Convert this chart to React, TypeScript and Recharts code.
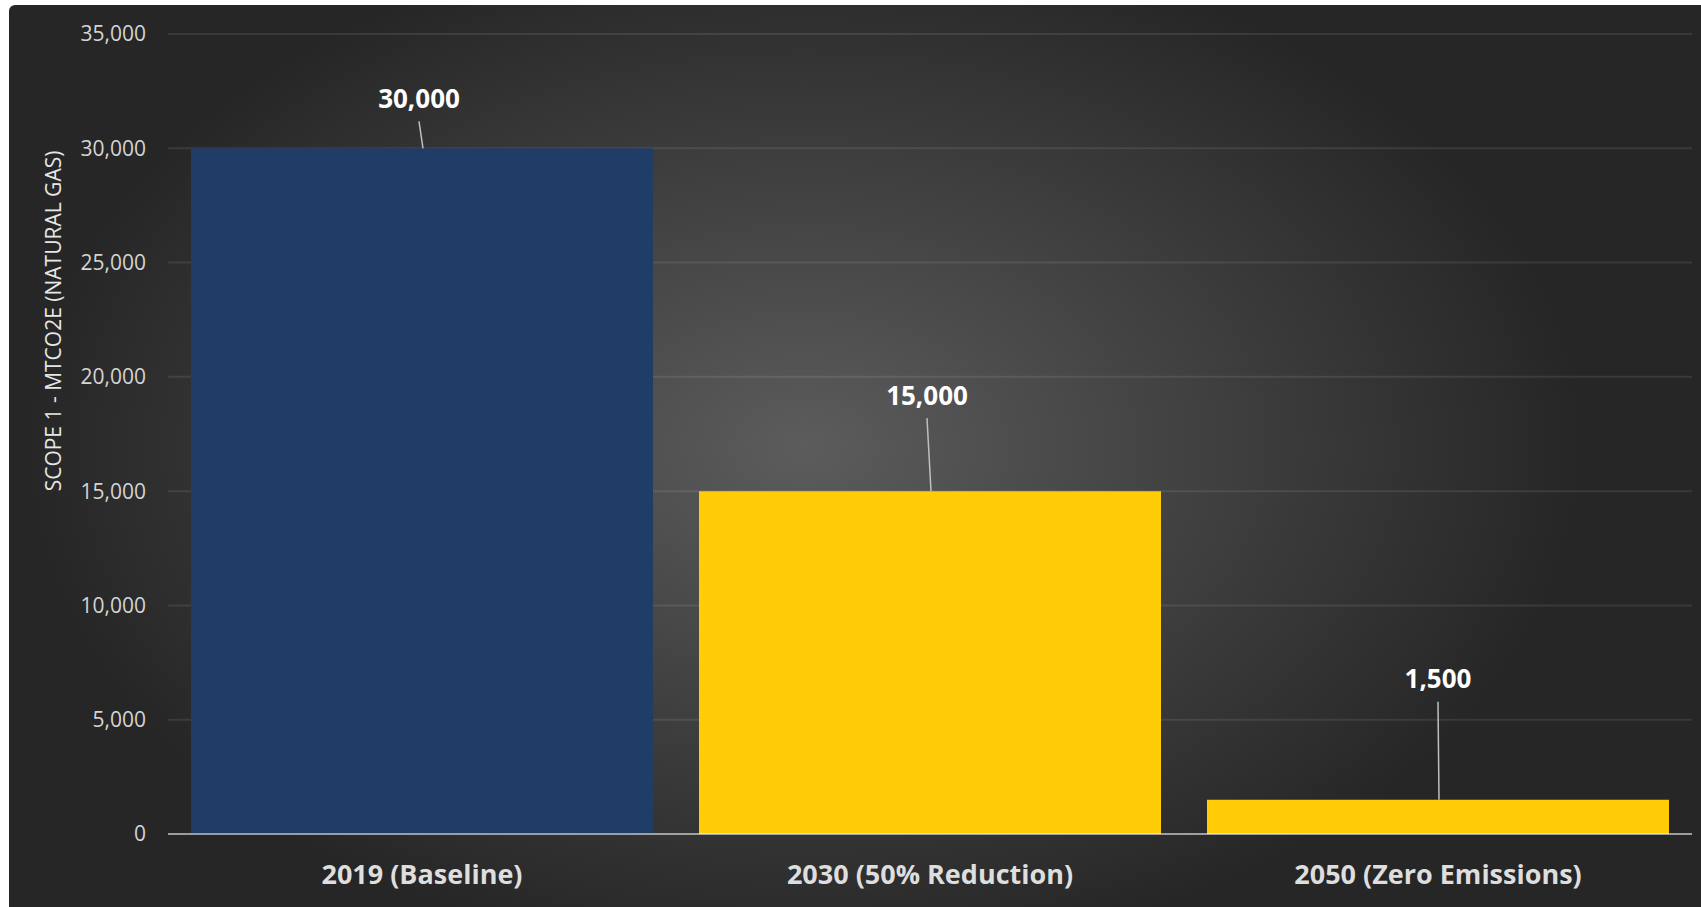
import { BarChart, Bar, XAxis, YAxis, CartesianGrid, Cell, LabelList } from "recharts";

const categories = ["2019 (Baseline)", "2030 (50% Reduction)", "2050 (Zero Emissions)"];
const emissions = [30000, 15000, 1500];
const yTicks = [0, 5000, 10000, 15000, 20000, 25000, 30000, 35000];
const axisTitle = "SCOPE 1 - MTCO2E (NATURAL GAS)";

const barColors = ["#1F3D66", "#FFCC06", "#FFCC06"];
// where each data label sits relative to its bar top (dragged labels in the original)
const labelShift = [
  { dx: -3, lift: 50 },
  { dx: -3, lift: 96 },
  { dx: 0, lift: 121 },
];

const data = categories.map((name, i) => ({ name, value: emissions[i] }));

const FONT = "'Open Sans', 'Noto Sans', sans-serif";
const fmt = (v: number) => v.toLocaleString("en-US");

const DataLabel = (props: any) => {
  const { x, y, width, value, index } = props;
  const shift = labelShift[index] ?? { dx: 0, lift: 40 };
  const cx = Number(x) + Number(width) / 2;
  const ly = Number(y) - shift.lift;
  return (
    <g>
      <line
        x1={cx + shift.dx}
        y1={ly + 23}
        x2={cx + 1}
        y2={Number(y)}
        stroke="#bfbfbf"
        strokeWidth={1.5}
      />
      <text
        x={cx + shift.dx}
        y={ly}
        dy="0.36em"
        textAnchor="middle"
        fill="#ffffff"
        fontFamily={FONT}
        fontWeight={700}
        fontSize={26}
      >
        {fmt(Number(value))}
      </text>
    </g>
  );
};

// title is placed a bit above the plot's middle, as in the original
const AxisTitle = () => {
  const cx = 44;
  const cy = 316;
  return (
    <text
      x={cx}
      y={cy}
      transform={`rotate(-90, ${cx}, ${cy})`}
      textAnchor="middle"
      dy="0.36em"
      fill="#e6e6e6"
      fontFamily={FONT}
      fontSize={21}
    >
      {axisTitle}
    </text>
  );
};

export default function App() {
  return (
    <div
      style={{
        position: "absolute",
        left: 9,
        top: 5,
        width: 1692,
        height: 902,
        borderTopLeftRadius: 6,
        background:
          "radial-gradient(ellipse 780px 520px at 47% 49%, #5c5c5c 0%, #262626 100%)",
      }}
    >
      <BarChart
        width={1692}
        height={902}
        data={data}
        margin={{ top: 29, right: 9, left: 0, bottom: 13 }}
        barCategoryGap={23}
      >
        <CartesianGrid
          vertical={false}
          stroke="rgba(255,255,255,0.09)"
          strokeWidth={2}
        />
        <XAxis
          dataKey="name"
          height={60}
          tickSize={0}
          tickMargin={31}
          axisLine={{ stroke: "rgba(255,255,255,0.5)", strokeWidth: 2 }}
          tickLine={false}
          tick={{ fill: "#dedede", fontFamily: FONT, fontWeight: 700, fontSize: 27 }}
        />
        <YAxis
          width={159}
          domain={[0, 35000]}
          ticks={yTicks}
          interval={0}
          tickFormatter={fmt}
          axisLine={false}
          tickLine={false}
          tickSize={0}
          tickMargin={22}
          tick={{ fill: "#d4d4d4", fontFamily: FONT, fontSize: 21 }}
          label={<AxisTitle />}
        />
        <Bar dataKey="value" isAnimationActive={false}>
          {data.map((entry, i) => (
            <Cell key={`cell-${entry.name}`} fill={barColors[i]} />
          ))}
          <LabelList dataKey="value" content={<DataLabel />} />
        </Bar>
      </BarChart>
    </div>
  );
}
